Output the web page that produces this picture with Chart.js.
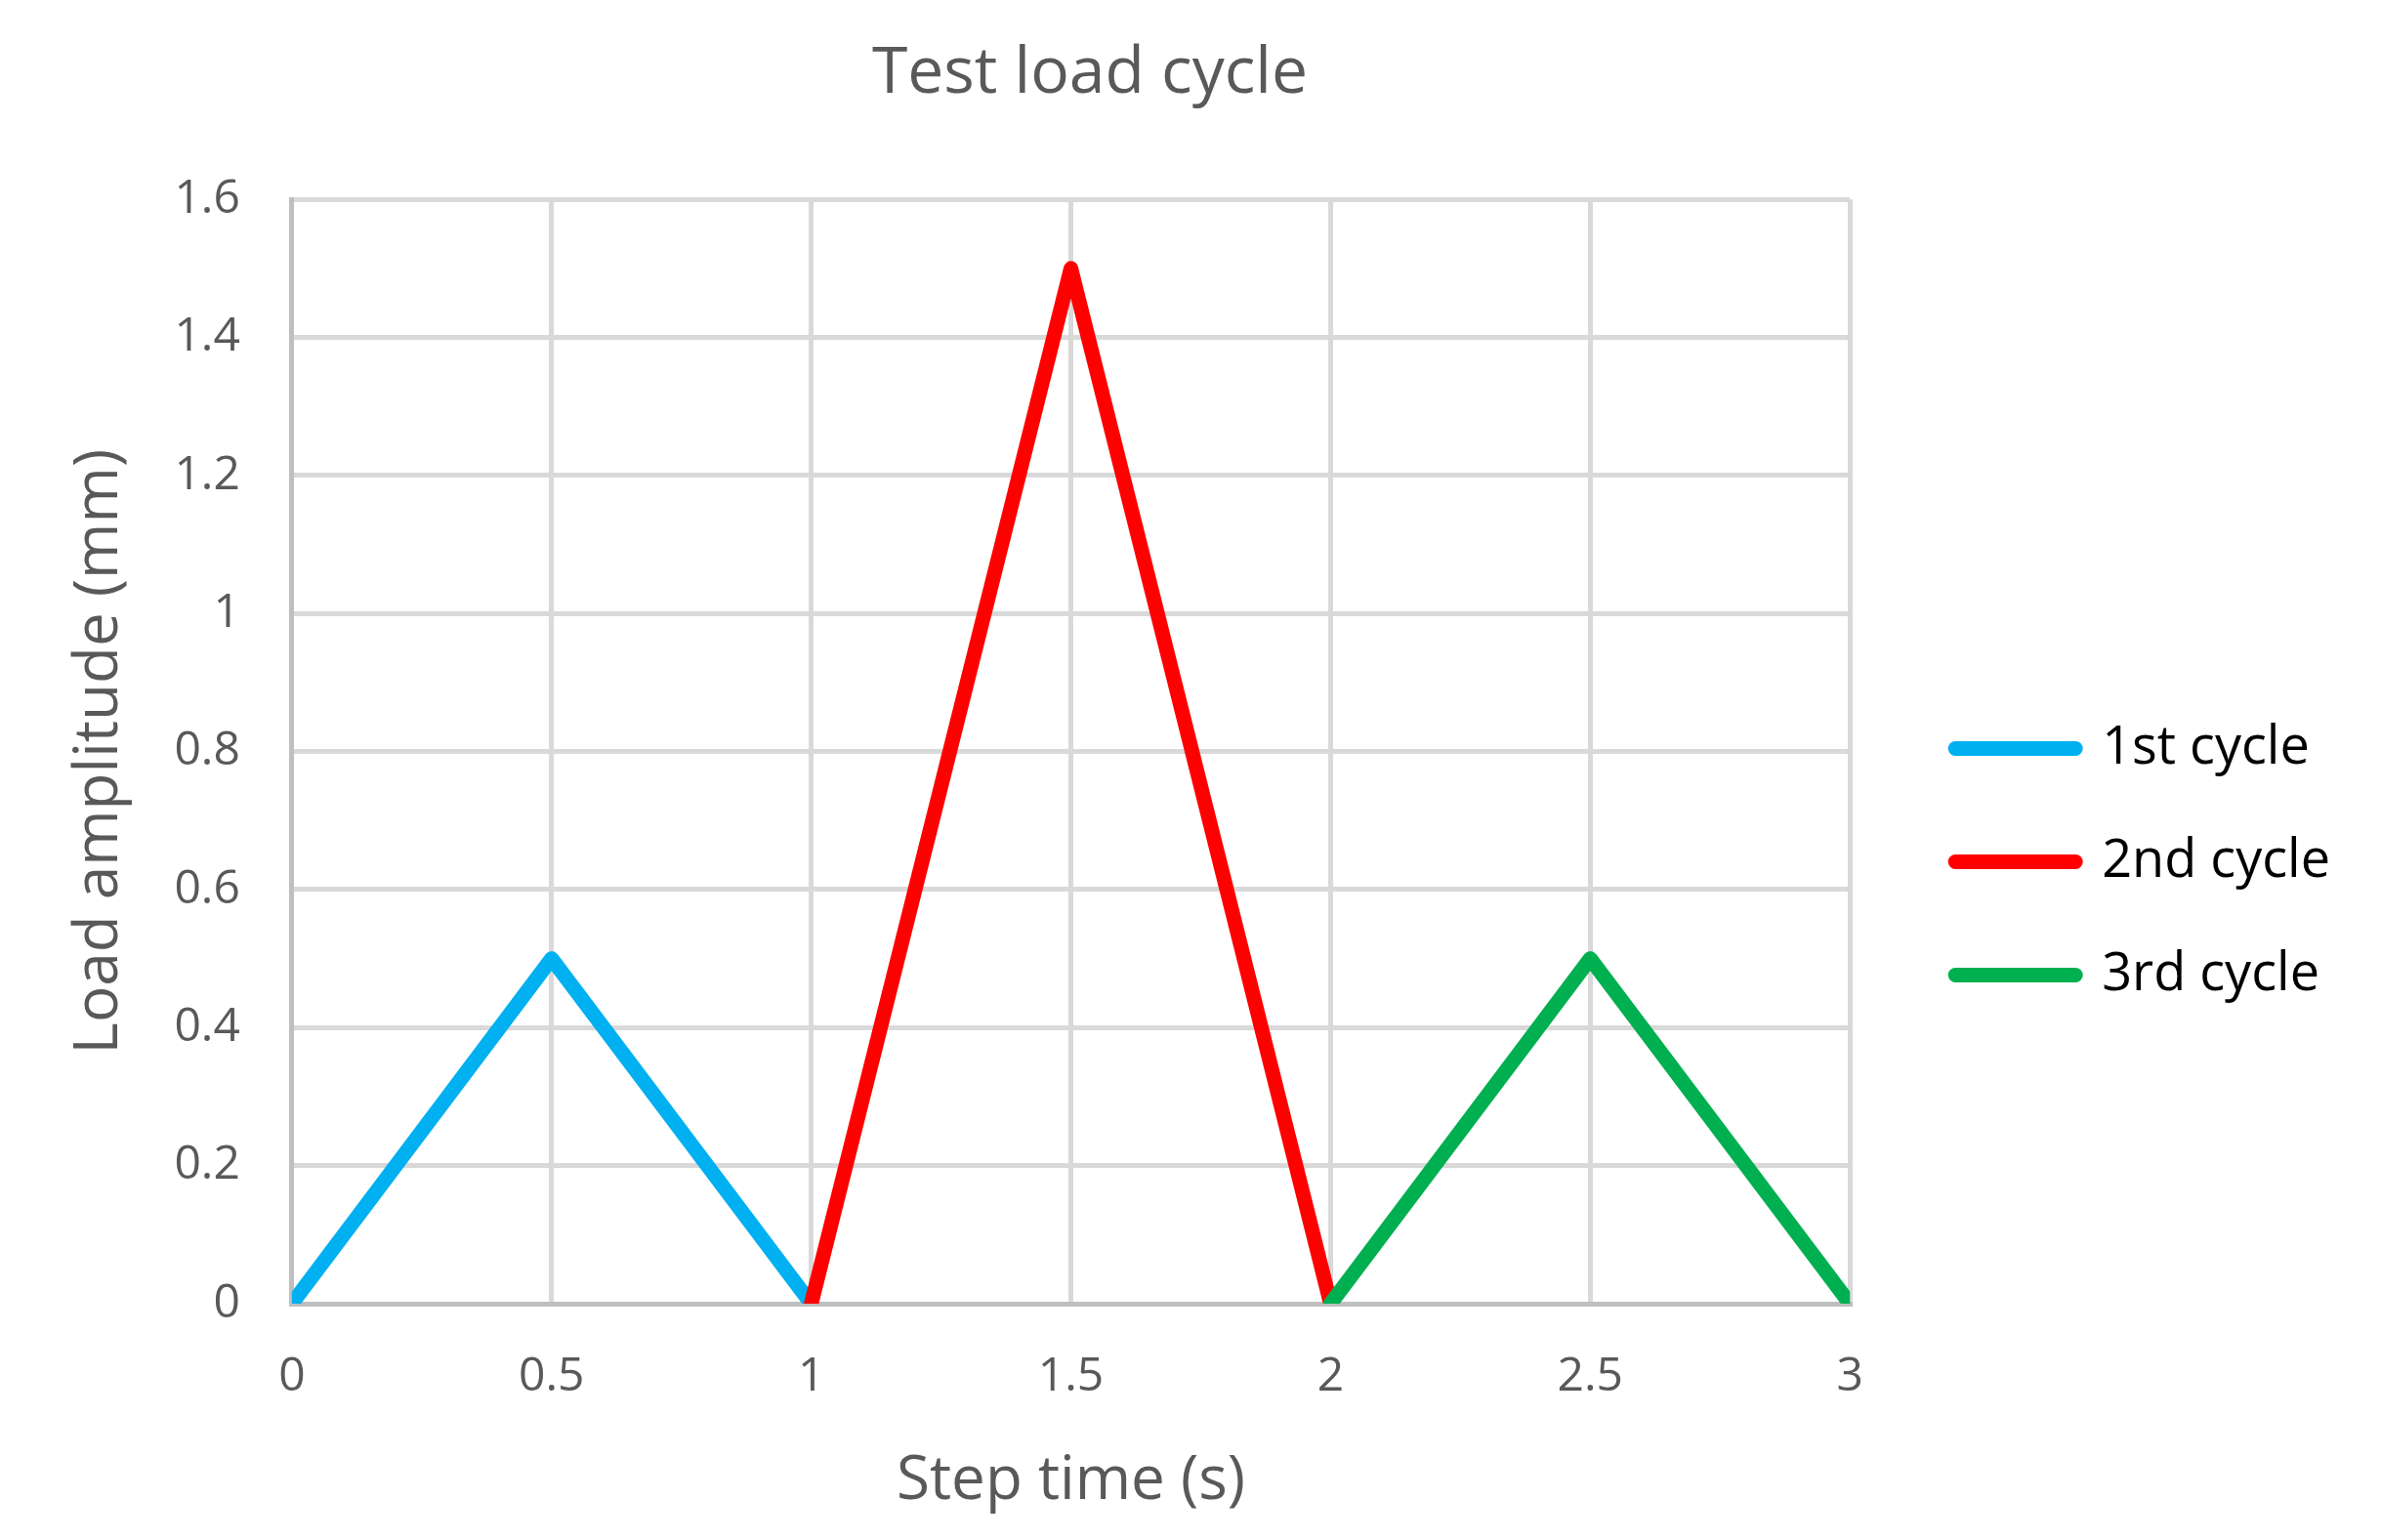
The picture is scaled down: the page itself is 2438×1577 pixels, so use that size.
<!DOCTYPE html>
<html>
<head>
<meta charset="utf-8">
<title>Test load cycle</title>
<script src="https://cdn.jsdelivr.net/npm/chart.js@4.4.1/dist/chart.umd.min.js"></script>
<style>
  html, body { margin: 0; padding: 0; background: #ffffff; }
  canvas { display: block; }
</style>
</head>
<body>
<canvas id="loadChart" width="2438" height="1577"></canvas>
<script>
// ---- data ----
const cycleLabels = ['1st cycle', '2nd cycle', '3rd cycle'];
const cycleColors = ['#00b0f0', '#ff0000', '#00b050'];

const cycle1Time = [0, 0.5, 1];
const cycle1Load = [0, 0.5, 0];
const cycle2Time = [1, 1.5, 2];
const cycle2Load = [0, 1.5, 0];
const cycle3Time = [2, 2.5, 3];
const cycle3Load = [0, 0.5, 0];

const xTickLabels = ['0', '0.5', '1', '1.5', '2', '2.5', '3'];
const yTickLabels = ['0', '0.2', '0.4', '0.6', '0.8', '1', '1.2', '1.4', '1.6'];

const textGrey = '#595959';
const fontFamily = "'Open Sans', 'Noto Sans', sans-serif";

function toPoints(xs, ys) {
    return xs.map((x, i) => ({ x: x, y: ys[i] }));
}

const seriesPoints = [
    toPoints(cycle1Time, cycle1Load),
    toPoints(cycle2Time, cycle2Load),
    toPoints(cycle3Time, cycle3Load)
];

// later cycles sit on top of earlier ones
const datasets = seriesPoints.map((pts, i) => ({
    label: cycleLabels[i],
    data: pts,
    borderColor: cycleColors[i],
    backgroundColor: cycleColors[i],
    borderWidth: 15,
    borderJoinStyle: 'round',
    borderCapStyle: 'round',
    pointRadius: 0,
    pointHoverRadius: 0,
    tension: 0,
    fill: false,
    clip: 0,
    order: cycleLabels.length - i
}));

// nudge title and legend blocks to where the reference has them
const blockNudge = {
    id: 'blockNudge',
    afterLayout(chart) {
        const lg = chart.legend;
        if (lg) {
            lg.left += 46; lg.right += 46;
            lg.top += 94; lg.bottom += 94;
        }
        const tb = chart.titleBlock;
        if (tb) {
            tb.left -= 59; tb.right -= 59;
        }
    }
};

const ctx = document.getElementById('loadChart').getContext('2d');
new Chart(ctx, {
    type: 'line',
    data: { datasets: datasets },
    plugins: [blockNudge],
    options: {
        responsive: false,
        devicePixelRatio: 1,
        animation: false,
        events: [],
        layout: { padding: { left: 0, right: 88, top: 0, bottom: 0 } },
        scales: {
            x: {
                type: 'linear',
                min: 0,
                max: 3,
                grid: { color: '#d9d9d9', lineWidth: 5, drawTicks: false },
                border: { color: '#bfbfbf', width: 5 },
                ticks: {
                    stepSize: 0.5,
                    padding: 47,
                    color: textGrey,
                    font: { family: fontFamily, size: 48 },
                    callback: (value, index) => xTickLabels[index]
                },
                title: {
                    display: true,
                    text: 'Step time (s)',
                    color: textGrey,
                    font: { family: fontFamily, size: 62 },
                    padding: { top: -6, bottom: 22 }
                }
            },
            y: {
                type: 'linear',
                min: 0,
                max: 1.6,
                grid: { color: '#d9d9d9', lineWidth: 5, drawTicks: false },
                border: { color: '#bfbfbf', width: 5 },
                ticks: {
                    stepSize: 0.2,
                    padding: 53,
                    color: textGrey,
                    font: { family: fontFamily, size: 48 },
                    callback: (value, index) => yTickLabels[index]
                },
                title: {
                    display: true,
                    text: 'Load amplitude (mm)',
                    color: textGrey,
                    font: { family: fontFamily, size: 62 },
                    padding: { top: 65, bottom: -14 }
                }
            }
        },
        plugins: {
            title: {
                display: true,
                text: 'Test load cycle',
                color: textGrey,
                font: { family: fontFamily, size: 66, weight: 'normal' },
                padding: { top: 37, bottom: 88 }
            },
            legend: {
                display: true,
                position: 'right',
                labels: {
                    color: '#000000',
                    font: { family: fontFamily, size: 54 },
                    usePointStyle: true,
                    pointStyleWidth: 123,
                    padding: 62,
                    sort: (a, b) => a.datasetIndex - b.datasetIndex,
                    generateLabels: (chart) =>
                        Chart.defaults.plugins.legend.labels.generateLabels(chart).map(item => ({
                            ...item,
                            pointStyle: 'line',
                            lineWidth: 15,
                            lineCap: 'round'
                        }))
                }
            },
            tooltip: { enabled: false }
        }
    }
});
</script>
</body>
</html>
